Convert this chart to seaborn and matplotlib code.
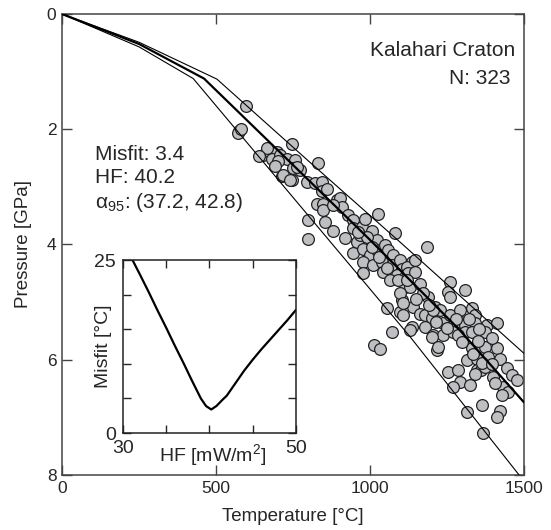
import numpy as np
import pandas as pd
import matplotlib.pyplot as plt
import seaborn as sns

# xenolith P-T estimates (temperature in C, pressure in GPa)
temp = [596, 576, 572, 582, 746, 654, 675, 697, 681, 708, 730, 756, 751, 773, 713, 665,
        832, 746, 794, 821, 843, 843, 827, 848, 848, 892, 903, 908, 881, 800, 854, 800,
        881, 919, 930, 946, 946, 973, 984, 1027, 1006, 1022, 957, 968, 989, 946, 978, 1000,
        976, 1022, 1049, 1081, 1060, 1076, 1011, 1038, 1043, 1070, 1097, 1103, 1087, 1114,
        1114, 1065, 976, 762, 719, 740, 859, 1184,
        1135, 1119, 1124, 1146, 1130, 1162, 1189, 1173, 1103, 1141, 1162, 1135, 1178, 1200,
        1178, 1211, 1227, 1238, 1260, 1260, 1254, 1260, 1308, 1292, 1297, 1330, 1341, 1308,
        1341, 1379, 1411, 1373, 1206, 1238, 1271, 1308, 1330, 1097, 1108, 1146, 1097, 1205,
        1130, 1200, 1287, 1217, 1222, 1330, 1357, 1373, 1411, 1422, 1314, 1346, 1384, 1254,
        1287, 1346, 1362, 1341, 1373, 1400, 1292, 1271, 1325, 1444, 1460, 1476, 1433, 1449,
        1363, 1314, 1422, 1413, 1368, 1054, 1072, 1014, 1034, 1108,
        1030, 1055, 1090, 1005, 960, 1120, 1150, 1190, 1215, 1250, 1280, 1320, 1355, 1395,
        1350, 1300, 1335, 1365, 1395, 1405, 1430, 700, 640, 690]
pres = [1.59, 2.03, 2.07, 2.00, 2.26, 2.45, 2.39, 2.39, 2.51, 2.45, 2.52, 2.53, 2.68, 2.71, 2.82, 2.33,
        2.58, 2.88, 2.91, 2.94, 2.91, 3.08, 3.29, 3.29, 3.40, 3.23, 3.20, 3.35, 3.32, 3.58, 3.61, 3.91,
        3.76, 3.89, 3.49, 3.58, 3.72, 3.69, 3.55, 3.47, 3.76, 3.92, 3.95, 3.84, 3.87, 4.15, 4.07, 4.18,
        4.30, 4.10, 4.01, 3.80, 4.10, 4.18, 4.36, 4.30, 4.47, 4.36, 4.27, 4.42, 4.53, 4.56,
        4.73, 4.62, 4.49, 2.65, 2.80, 2.88, 3.03, 4.05,
        4.30, 4.39, 4.50, 4.47, 4.73, 4.68, 4.91, 4.85, 4.97, 5.08, 5.20, 5.43, 5.23, 5.28,
        5.43, 5.08, 5.14, 5.37, 5.23, 4.65, 4.82, 4.91, 4.79, 5.14, 5.34, 5.11, 5.23, 5.40,
        5.37, 5.40, 5.37, 5.52, 5.57, 5.57, 5.52, 5.52, 5.52, 5.17, 5.23, 4.27, 4.85, 5.14,
        5.49, 5.60, 5.57, 5.83, 5.78, 5.80, 5.83, 5.78, 5.80, 5.98, 6.01, 5.98, 5.95, 6.21,
        6.18, 6.18, 6.18, 6.24, 6.12, 6.30, 6.38, 6.47, 6.44, 6.15, 6.27, 6.35, 6.47, 6.56,
        6.78, 6.90, 6.89, 6.99, 7.28, 5.11, 5.52, 5.75, 5.81, 5.02,
        4.22, 4.40, 4.62, 4.05, 3.78, 4.62, 4.95, 5.05, 5.35, 5.45, 5.30, 5.30, 5.47, 5.62,
        5.68, 5.70, 5.90, 6.05, 6.08, 6.40, 6.62, 2.55, 2.47, 2.63]

# model geotherms: best fit and 95% bounds
best_t = [0, 250, 461, 700, 1000, 1292, 1500]
best_p = [0, 0.52, 1.12, 2.36, 3.92, 5.49, 6.74]
hot_t = [0, 250, 503, 800, 1100, 1500]
hot_p = [0, 0.49, 1.13, 2.55, 3.97, 5.89]
cold_t = [0, 250, 426, 800, 1130, 1484]
cold_p = [0, 0.57, 1.12, 3.50, 5.60, 8.00]

# misfit curve for the inset
hf = [31.1, 32, 33, 34, 35, 36, 37, 38, 39, 39.6, 40.2, 40.8, 41.5, 42, 43, 44, 45, 46, 47, 48, 49, 50]
misfit = [25, 22.8, 20.3, 17.7, 15.2, 12.6, 10.1, 7.5, 5.0, 3.9, 3.4, 3.9, 4.8, 5.4, 7.2, 9.0,
          10.6, 12.1, 13.5, 14.9, 16.3, 17.8]

sns.set_style("ticks")
plt.rcParams['font.family'] = ['Liberation Sans', 'DejaVu Sans']
plt.rcParams['mathtext.fontset'] = 'custom'
plt.rcParams['mathtext.rm'] = 'Liberation Sans'
plt.rcParams['mathtext.it'] = 'Liberation Sans:italic'

fig = plt.figure(figsize=(5.51, 5.30), dpi=100)
ax = fig.add_axes([0.1125, 0.1038, 0.8385, 0.8698])

pts = pd.DataFrame({'T': temp, 'P': pres})
sns.scatterplot(data=pts, x='T', y='P', ax=ax, s=72, color='#bebfc2',
                edgecolor='#222222', linewidth=0.9, zorder=2, legend=False)

for xs, ys, lw in [(hot_t, hot_p, 0.8), (cold_t, cold_p, 0.8), (best_t, best_p, 1.6)]:
    sns.lineplot(x=xs, y=ys, ax=ax, color='black', lw=lw, sort=False,
                 estimator=None, zorder=3)

ax.set_xlim(0, 1500)
ax.set_ylim(8, 0)
ax.set_xticks([0, 500, 1000, 1500])
ax.set_yticks([0, 2, 4, 6, 8])
ax.tick_params(direction='in', top=True, right=True, length=7, width=1,
               color='#444444', labelsize=12.5, pad=4)
for sp in ax.spines.values():
    sp.set_color('#444444')
    sp.set_linewidth(1.1)
ax.set_xlabel('Temperature [°C]', fontsize=13.5)
ax.xaxis.set_label_coords(0.5, -0.072)
ax.set_ylabel('Pressure [GPa]', fontsize=13.5)
ax.yaxis.set_label_coords(-0.065, 0.5)

ax.text(0.9805, 0.92, 'Kalahari Craton', transform=ax.transAxes, ha='right', va='center', fontsize=15)
ax.text(0.970, 0.859, 'N: 323', transform=ax.transAxes, ha='right', va='center', fontsize=15)
ax.text(0.0714, 0.696, 'Misfit: 3.4', transform=ax.transAxes, ha='left', va='center', fontsize=15)
ax.text(0.0714, 0.646, 'HF: 40.2', transform=ax.transAxes, ha='left', va='center', fontsize=15)
ax.text(0.0714, 0.59, r'α$_{95}$: (37.2, 42.8)', transform=ax.transAxes, ha='left', va='center', fontsize=15)

# inset: misfit against surface heat flow
axin = fig.add_axes([0.2232, 0.183, 0.314, 0.3264])
sns.lineplot(x=hf, y=misfit, ax=axin, color='black', lw=1.6)
axin.set_xlim(30, 50)
axin.set_ylim(0, 25)
axin.set_xticks([30, 35, 40, 45, 50])
axin.set_xticklabels(['30', '', '', '', '50'])
axin.set_yticks([0, 5, 10, 15, 20, 25])
axin.set_yticklabels(['0', '', '', '', '', '25'])
axin.tick_params(direction='in', top=True, right=True, length=6, width=1,
                 labelsize=14, pad=3)
axin.tick_params(axis='x', pad=5)
axin.tick_params(axis='y', pad=5)
for sp in axin.spines.values():
    sp.set_color('#222222')
    sp.set_linewidth(1.1)
axin.set_xlabel('HF [mW/m$^2$]', fontsize=14)
axin.xaxis.set_label_coords(0.52, -0.055)
axin.set_ylabel('Misfit [°C]', fontsize=14)
axin.yaxis.set_label_coords(-0.064, 0.5)

fig.savefig('out.png', dpi=100)
